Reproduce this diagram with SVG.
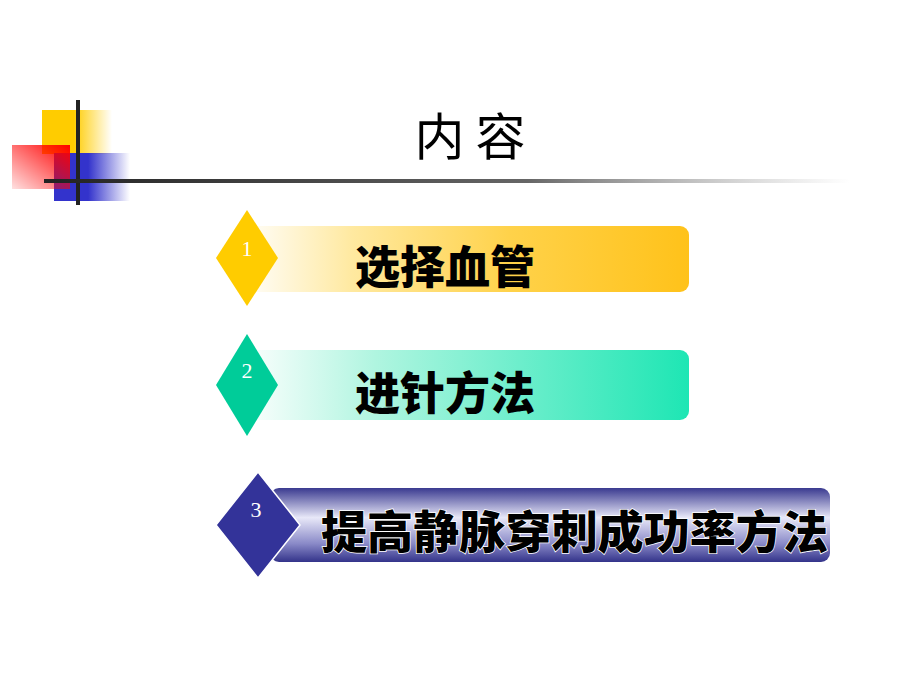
<svg xmlns="http://www.w3.org/2000/svg" width="920" height="690" viewBox="0 0 920 690">
<defs>
<linearGradient id="gy" x1="0" x2="1"><stop offset="0" stop-color="#ffcc00"/><stop offset="0.45" stop-color="#ffcc00"/><stop offset="1" stop-color="#ffcc00" stop-opacity="0"/></linearGradient>
<linearGradient id="gr" x1="0" y1="1" x2="1" y2="0"><stop offset="0" stop-color="#ff0000" stop-opacity="0.12"/><stop offset="1" stop-color="#ff0000"/></linearGradient>
<linearGradient id="gb" x1="0" x2="1"><stop offset="0" stop-color="#3333cc"/><stop offset="0.45" stop-color="#3333cc"/><stop offset="1" stop-color="#3333cc" stop-opacity="0"/></linearGradient>
<linearGradient id="gl" x1="0" x2="1"><stop offset="0" stop-color="#222"/><stop offset="0.6" stop-color="#666"/><stop offset="1" stop-color="#999" stop-opacity="0"/></linearGradient>
<linearGradient id="b1" x1="0" x2="1"><stop offset="0" stop-color="#fff" /><stop offset="0.25" stop-color="#ffe9a0"/><stop offset="0.6" stop-color="#ffd24a"/><stop offset="1" stop-color="#ffc21a"/></linearGradient>
<linearGradient id="b2" x1="0" x2="1"><stop offset="0" stop-color="#fff"/><stop offset="0.3" stop-color="#b0f5e0"/><stop offset="1" stop-color="#1ee6b4"/></linearGradient>
<linearGradient id="b3" x1="0" y1="0" x2="0" y2="1"><stop offset="0" stop-color="#3a3a90"/><stop offset="0.4" stop-color="#e8e8f8"/><stop offset="0.75" stop-color="#8a8ac8"/><stop offset="1" stop-color="#33338a"/></linearGradient>
<style>
.t{font-family:"Noto Sans CJK SC","Noto Sans",sans-serif;font-weight:900;font-size:45px;fill:#000}
.n{font-family:"Liberation Serif",serif;font-size:22px;fill:#fff}
</style>
</defs>
<g id="logo">
<rect x="42" y="110" width="70" height="44" fill="url(#gy)"/>
<rect x="54" y="153" width="76" height="48" fill="url(#gb)"/>
<rect x="12" y="145" width="58" height="44" fill="url(#gr)"/>
<rect x="76" y="100" width="4" height="105" fill="#222"/>
<rect x="44" y="179" width="806" height="4" fill="url(#gl)"/>
</g>
<g id="title"><text x="470" y="155" text-anchor="middle" font-family="Noto Sans CJK SC,sans-serif" font-size="50" fill="#000">内 容</text></g>
<g id="item1">
<rect x="240" y="226" width="449" height="66" rx="9" fill="url(#b1)"/>
<polygon points="247,210 278,258 247,306 216,258" fill="#ffcc00"/>
<text class="n" x="247" y="256" text-anchor="middle">1</text>
<text class="t" x="355" y="284">选择血管</text>
</g>
<g id="item2">
<rect x="240" y="350" width="449" height="70" rx="9" fill="url(#b2)"/>
<polygon points="247,334 278,385 247,436 216,385" fill="#00cc99"/>
<text class="n" x="247" y="378" text-anchor="middle">2</text>
<text class="t" x="355" y="410">进针方法</text>
</g>
<g id="item3">
<rect x="270" y="488" width="560" height="74" rx="9" fill="url(#b3)"/>
<polygon points="258,472 300,525 258,578 216,525" fill="#333399" stroke="#fff" stroke-width="1.5"/>
<text class="n" x="256" y="517" text-anchor="middle">3</text>
<text class="t" x="321" y="549" textLength="507" lengthAdjust="spacingAndGlyphs" stroke="#fff" stroke-width="1.5" paint-order="stroke">提高静脉穿刺成功率方法</text>
</g>
</svg>
